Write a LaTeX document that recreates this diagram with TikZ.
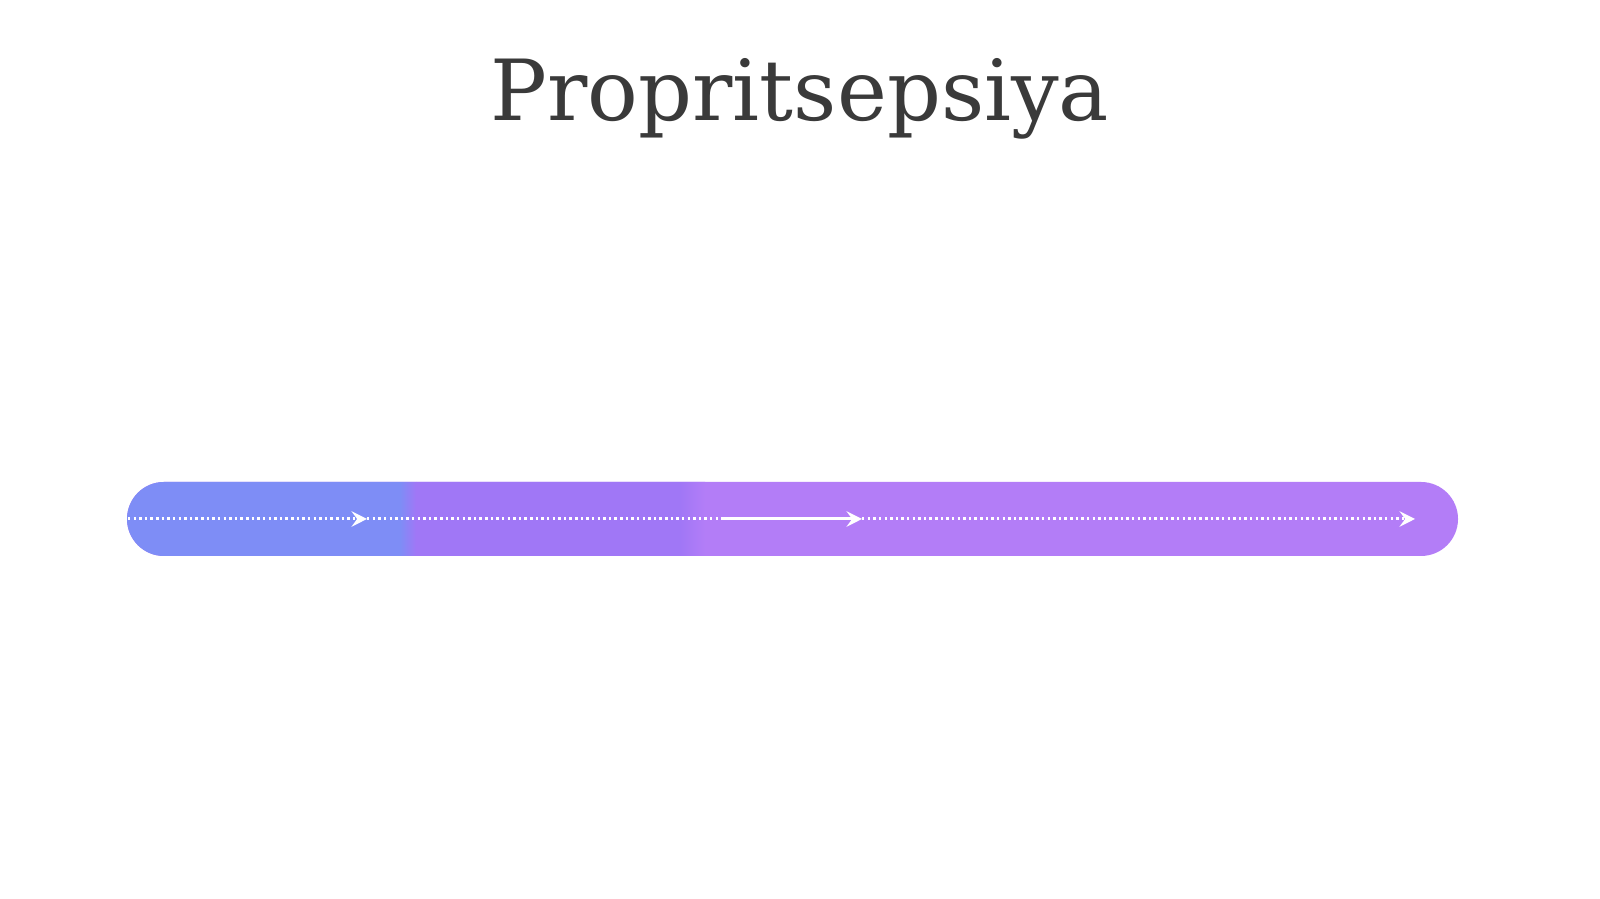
\documentclass[tikz,border=0pt]{standalone}
\usepackage{fontspec}
\setmainfont{DejaVu Serif}
\usetikzlibrary{arrows.meta}
\definecolor{barA}{RGB}{126,141,246}
\definecolor{barB}{RGB}{160,119,246}
\definecolor{barC}{RGB}{179,125,247}
\definecolor{titlegray}{RGB}{58,58,58}
\begin{document}
\begin{tikzpicture}[flow/.style={white,line width=0.85pt},dots/.style={flow,dash pattern=on 0.7pt off 0.9pt},
tip/.style={-{Stealth[length=4.4pt,width=4.4pt,inset=1.6pt]}}]
\useasboundingbox[fill=white] (0,0) rectangle (16,8.99);
\node[anchor=base,text=titlegray,font=\fontsize{24}{29}\selectfont] (title) at (8.0,7.78) {Propritsepsiya};
\begin{scope}
 \clip[rounded corners=3.7mm] (1.27,3.43) rectangle (14.58,4.17);
 \fill[barC] (1.2,3.4) rectangle (14.6,4.2);
 \fill[barA] (1.2,3.4) rectangle (4.0,4.2);
 \shade[left color=barA,right color=barB] (4.0,3.4) rectangle (4.16,4.2);
 \fill[barB] (4.16,3.4) rectangle (6.8,4.2);
 \shade[left color=barB,right color=barC] (6.8,3.4) rectangle (7.05,4.2);
\end{scope}
\path (1.28,3.80) coordinate (s) -- (3.67,3.80) coordinate (a1) -- (7.22,3.80) coordinate (b)
 -- (8.62,3.80) coordinate (a2) -- (14.15,3.80) coordinate (e);
\draw[dots,tip] (s) -- (a1);
\draw[dots] (a1) -- (b);
\draw[flow,tip] (b) -- (a2);
\draw[dots,tip] (a2) -- (e);
\end{tikzpicture}
\end{document}
